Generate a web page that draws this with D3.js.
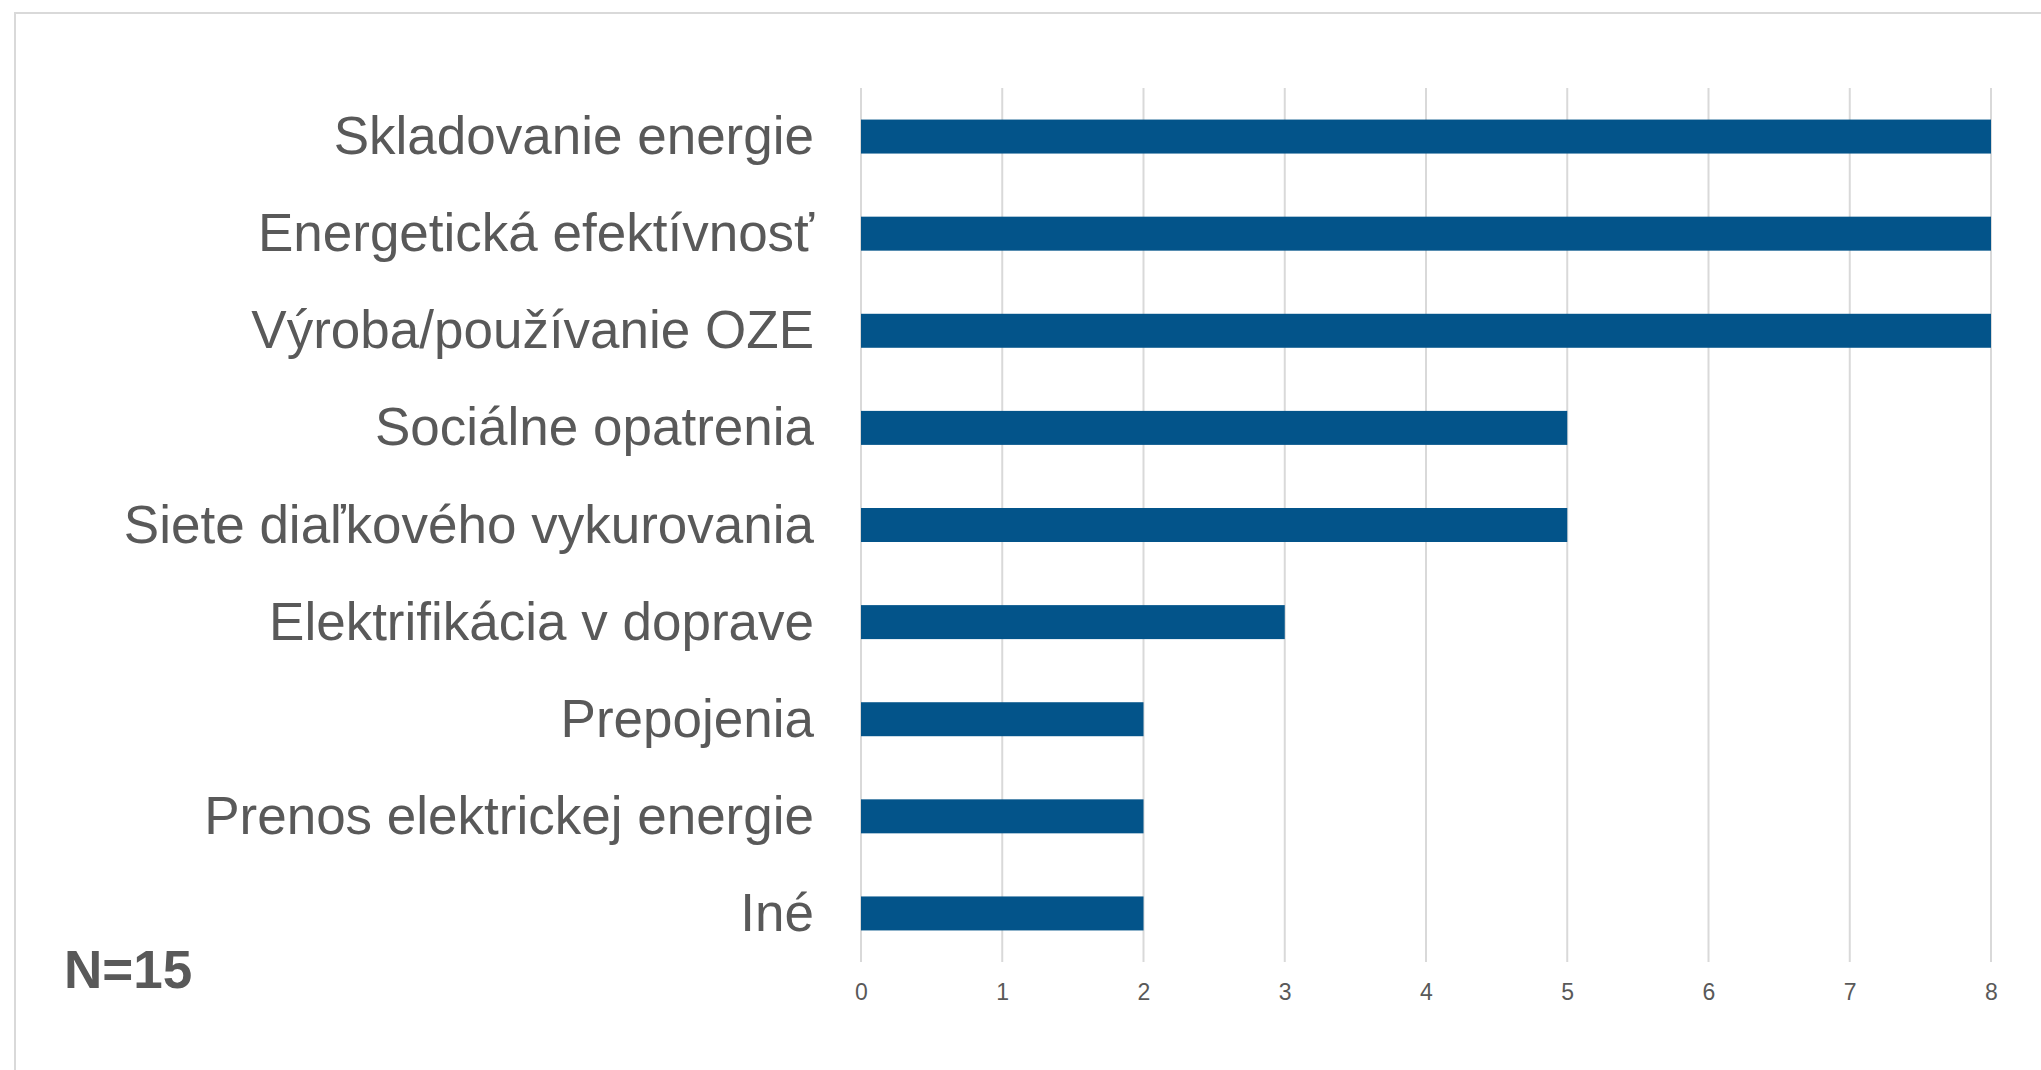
<!DOCTYPE html>
<html>
<head>
<meta charset="utf-8">
<script src="https://cdn.jsdelivr.net/npm/d3@7"></script>
<style>
  body { margin: 0; background: #fff; }
  svg { display: block; font-family: "Liberation Sans", Arial, sans-serif; }
</style>
</head>
<body>
<svg id="chart" width="2041" height="1070"></svg>
<script>
// chart data
var categories = [
  "Skladovanie energie",
  "Energetická efektívnosť",
  "Výroba/používanie OZE",
  "Sociálne opatrenia",
  "Siete diaľkového vykurovania",
  "Elektrifikácia v doprave",
  "Prepojenia",
  "Prenos elektrickej energie",
  "Iné"
];
var counts = [8, 8, 8, 5, 5, 3, 2, 2, 2];
var tickValues = [0, 1, 2, 3, 4, 5, 6, 7, 8];
var note = "N=15";

var svg = d3.select("#chart");

// outer frame (only top and left edges fall inside the picture)
svg.append("rect")
  .attr("x", 15).attr("y", 13)
  .attr("width", 2100).attr("height", 1100)
  .attr("fill", "none")
  .attr("stroke", "#d9d9d9")
  .attr("stroke-width", 2);

// plot area (window.top is reserved, so use other names)
var plotLeft = 861, plotRight = 1991, plotTop = 88, plotBottom = 962;

var x = d3.scaleLinear().domain([0, 8]).range([plotLeft, plotRight]);
var y = d3.scaleBand().domain(categories).range([plotTop, plotBottom]).paddingInner(0.65).paddingOuter(0.325);

// gridlines
svg.append("g")
  .selectAll("line")
  .data(tickValues)
  .enter()
  .append("line")
  .attr("x1", function(d) { return x(d); })
  .attr("x2", function(d) { return x(d); })
  .attr("y1", plotTop)
  .attr("y2", plotBottom)
  .attr("stroke", "#d9d9d9")
  .attr("stroke-width", 2);

// bars
svg.append("g")
  .selectAll("rect")
  .data(categories)
  .enter()
  .append("rect")
  .attr("x", x(0))
  .attr("y", function(d) { return y(d); })
  .attr("width", function(d, i) { return x(counts[i]) - x(0); })
  .attr("height", y.bandwidth())
  .attr("fill", "#03548a");

// x axis labels
var xAxis = svg.append("g")
  .attr("transform", "translate(0," + (plotBottom + 22) + ")")
  .call(d3.axisBottom(x).tickValues(tickValues).tickSize(0).tickPadding(0));
xAxis.select(".domain").remove();
xAxis.selectAll("text")
  .attr("font-size", 23)
  .attr("font-family", "Liberation Sans, Arial, sans-serif")
  .attr("fill", "#595959");

// category labels
var yAxis = svg.append("g")
  .attr("transform", "translate(" + (plotLeft - 47) + ",0)")
  .call(d3.axisLeft(y).tickSize(0).tickPadding(0));
yAxis.select(".domain").remove();
yAxis.selectAll("text")
  .attr("font-size", 53)
  .attr("font-family", "Liberation Sans, Arial, sans-serif")
  .attr("dy", "0.33em")
  .attr("fill", "#595959");

// sample size note
svg.append("text")
  .attr("x", 64)
  .attr("y", 988)
  .attr("font-size", 53)
  .attr("font-weight", "bold")
  .attr("fill", "#595959")
  .text(note);
</script>
</body>
</html>
